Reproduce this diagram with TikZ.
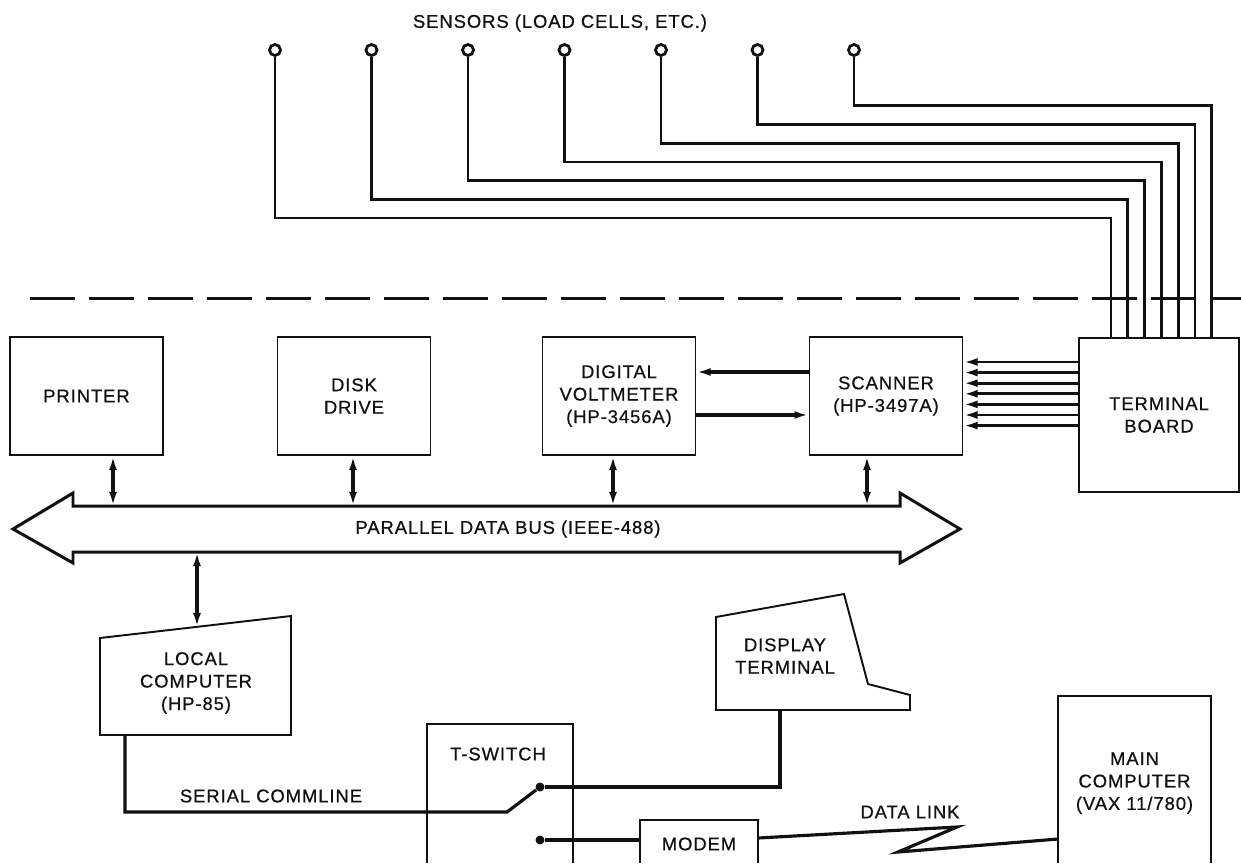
\documentclass[tikz,border=0pt]{standalone}
\usepackage{fontspec}
\setmainfont[LetterSpace=5, FakeBold=0.6]{Liberation Sans}
\usetikzlibrary{positioning, arrows.meta, calc}
\definecolor{inkCol}{HTML}{111111}

\begin{document}
\begin{tikzpicture}[x=0.02cm, y=-0.02cm, inkCol,
    every node/.style={font=\fontsize{10.5}{12.8}\selectfont, align=center, text=inkCol},
    unit/.style={draw, line width=1.1pt, minimum width=3.06cm, minimum height=2.36cm},
    outline/.style={line width=1.1pt},
    wire/.style={line width=1.8pt},
    link/.style={wire, {Latex[length=8pt, width=4.5pt]}-{Latex[length=8pt, width=4.5pt]}},
    feed/.style={wire, -{Latex[length=8pt, width=4.5pt]}},
    sensor/.style={circle, draw, line width=1.6pt, minimum size=0.22cm, inner sep=0pt},
    contact/.style={circle, fill, minimum size=0.18cm, inner sep=0pt}]
    \useasboundingbox[fill=white] (0,0) rectangle (1241,863);

    \node[unit] (printer) at (86.5,396) {PRINTER};
    \node[unit] (disk) at (354,396) {DISK\\DRIVE};
    \node[unit] (dvm) at (619,396) {DIGITAL\\VOLTMETER\\(HP-3456A)};
    \node[unit] (scanner) at (886,396) {SCANNER\\(HP-3497A)};
    \node[unit, minimum width=3.2cm, minimum height=3.08cm] (board) at (1159,415) {TERMINAL\\BOARD};

    \node (title) at (560,23) {SENSORS (LOAD CELLS, ETC.)};
    \foreach \i in {1,...,7}{
      \pgfmathsetmacro\sx{275+96.5*(\i-1)}
      \pgfmathsetmacro\sy{218-18.7*(\i-1)}
      \pgfmathsetmacro\bx{1111+16.8*(\i-1)}
      \node[sensor] (s\i) at (\sx,50) {};
      \coordinate (t\i) at (\bx,\sy);
      \draw[wire, line width=1.6pt] (s\i.south) |- (t\i) -- (t\i |- board.north);
    }
    \draw[line width=1.7pt, dash pattern=on 0.9cm off 0.28cm] (30,298) -- (1241,298);

    \foreach \k in {0,...,6}{
      \coordinate (r) at (0,{362+10.6*\k});
      \draw[feed, line width=1.6pt] (board.west |- r) -- (scanner.east |- r);
    }
    \coordinate (hi) at (0,372);
    \coordinate (lo) at (0,415);
    \draw[feed] (scanner.west |- hi) -- (dvm.east |- hi);
    \draw[feed] (dvm.east |- lo) -- (scanner.west |- lo);

    \draw[outline, line width=1.7pt] (13,529) -- (73,493) -- (73,506) -- (900,506) -- (900,493)
      -- (960,529) -- (900,563) -- (900,552) -- (73,552) -- (73,563) -- cycle;
    \node (bus) at (508,529) {PARALLEL DATA BUS (IEEE-488)};
    \coordinate (bustop) at (0,506);
    \coordinate (busbot) at (0,552);
    \foreach \name/\x in {printer/113, disk/353, dvm/613, scanner/867}{
      \coordinate (a) at (\x,0);
      \draw[link] (a |- \name.south) -- (a |- bustop);
    }

    \draw[outline] (100,638) -- (291,616) -- (291,735) -- (100,735) -- cycle;
    \node (local) at (196,683) {LOCAL\\COMPUTER\\(HP-85)};
    \coordinate (localtop) at (197,627);
    \coordinate (localbot) at (125,735);
    \draw[link] (localtop) -- (localtop |- busbot);

    \draw[outline] (716,617) -- (844,594) -- (868,684) -- (910,695) -- (910,710) -- (716,710) -- cycle;
    \node (display) at (785,656) {DISPLAY\\TERMINAL};
    \coordinate (dispbot) at (780,710);

    \draw[outline] (427,863) -- (427,724) -- (573,724) -- (573,863);
    \node (tswitch) at (498,754) {T-SWITCH};
    \draw[outline] (640,863) -- (640,820) -- (758,820) -- (758,863);
    \node (modem) at (699,844) {MODEM};
    \draw[outline] (1058,863) -- (1058,696) -- (1211,696) -- (1211,863);
    \node (main) at (1134.5,783) {MAIN\\COMPUTER\\(VAX 11/780)};
    \coordinate (modemin) at (640,840);
    \coordinate (modemout) at (758,838);
    \coordinate (mainin) at (1058,839);

    \node[contact] (up) at (540,787) {};
    \node[contact] (dn) at (540,840) {};
    \draw[wire] (localbot) |- (507,812) -- (up);
    \node (serial) at (271,796) {SERIAL COMMLINE};
    \draw[wire] (dispbot) |- (up);
    \draw[wire] (dn) -- (modemin);
    \draw[wire] (modemout) -- (957,827) -- (898,852) -- (mainin);
    \node (datalink) at (910,812) {DATA LINK};
\end{tikzpicture}
\end{document}
